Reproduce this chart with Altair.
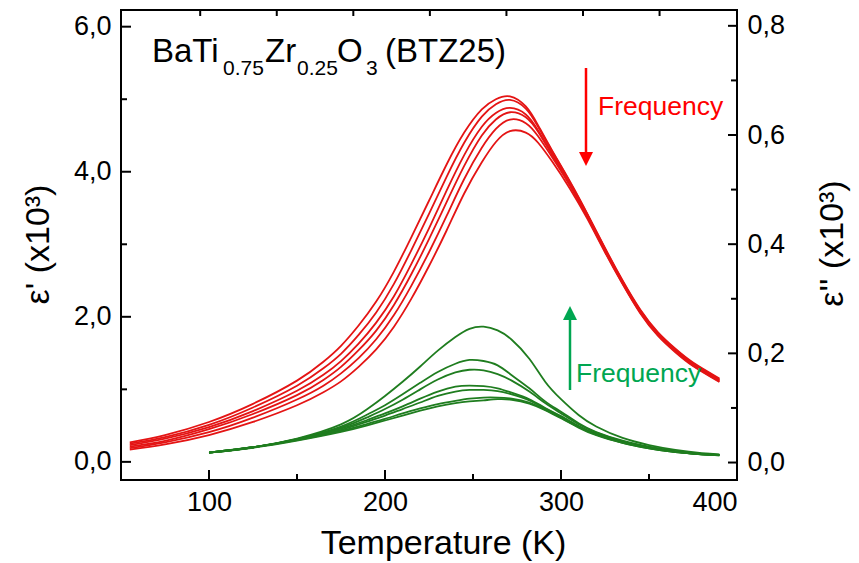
import altair as alt
import pandas as pd

# ---------------- data ----------------
T_RED = [55, 75, 100, 125, 150, 165, 175, 185, 195, 205, 215, 225, 235, 245, 255,
         263, 271, 280, 287, 295, 305, 315, 325, 335, 345, 355, 365, 375, 390]
EPS1_A = [0.27, 0.37, 0.55, 0.80, 1.12, 1.38, 1.60, 1.88, 2.21, 2.62, 3.10, 3.60, 4.10, 4.54, 4.86,
          5.00, 5.04, 4.90, 4.64, 4.29, 3.87, 3.42, 2.95, 2.50, 2.10, 1.79, 1.56, 1.37, 1.15]
EPS1_B = [0.25, 0.34, 0.51, 0.75, 1.05, 1.29, 1.49, 1.75, 2.06, 2.45, 2.92, 3.42, 3.93, 4.40, 4.76,
          4.93, 4.99, 4.87, 4.62, 4.28, 3.86, 3.41, 2.94, 2.49, 2.09, 1.78, 1.55, 1.36, 1.14]
EPS1_C = [0.23, 0.32, 0.48, 0.70, 0.98, 1.20, 1.39, 1.63, 1.92, 2.28, 2.73, 3.22, 3.74, 4.23, 4.62,
          4.81, 4.88, 4.79, 4.57, 4.25, 3.84, 3.40, 2.93, 2.48, 2.08, 1.77, 1.54, 1.35, 1.13]
EPS1_D = [0.21, 0.29, 0.45, 0.66, 0.92, 1.13, 1.31, 1.54, 1.81, 2.16, 2.59, 3.07, 3.58, 4.08, 4.50,
          4.72, 4.82, 4.75, 4.55, 4.23, 3.83, 3.39, 2.92, 2.47, 2.07, 1.76, 1.53, 1.34, 1.12]
EPS1_E = [0.19, 0.27, 0.41, 0.61, 0.86, 1.05, 1.22, 1.43, 1.69, 2.02, 2.43, 2.89, 3.39, 3.90, 4.33,
          4.59, 4.72, 4.67, 4.49, 4.20, 3.81, 3.37, 2.90, 2.46, 2.06, 1.75, 1.52, 1.33, 1.11]
EPS1_F = [0.17, 0.24, 0.37, 0.55, 0.78, 0.96, 1.11, 1.31, 1.55, 1.86, 2.25, 2.70, 3.19, 3.70, 4.13,
          4.41, 4.56, 4.54, 4.40, 4.14, 3.77, 3.35, 2.89, 2.45, 2.05, 1.74, 1.51, 1.32, 1.10]

T_GREEN = [100, 125, 150, 175, 190, 200, 210, 220, 230, 240, 248, 256, 264, 272,
           282, 291, 300, 310, 320, 335, 350, 365, 380, 390]
EPS2_A = [0.018, 0.028, 0.044, 0.070, 0.098, 0.122, 0.148, 0.176, 0.205, 0.230, 0.245, 0.249, 0.242, 0.225,
          0.190, 0.148, 0.116, 0.087, 0.066, 0.045, 0.032, 0.023, 0.017, 0.015]
EPS2_B = [0.018, 0.028, 0.043, 0.066, 0.088, 0.105, 0.125, 0.146, 0.166, 0.181, 0.188, 0.186, 0.178, 0.160,
          0.136, 0.112, 0.093, 0.072, 0.056, 0.040, 0.029, 0.021, 0.016, 0.014]
EPS2_C = [0.018, 0.028, 0.043, 0.064, 0.083, 0.098, 0.115, 0.134, 0.152, 0.165, 0.170, 0.169, 0.162, 0.150,
          0.130, 0.109, 0.090, 0.070, 0.055, 0.039, 0.028, 0.020, 0.016, 0.014]
EPS2_D = [0.018, 0.028, 0.042, 0.062, 0.078, 0.090, 0.103, 0.117, 0.130, 0.139, 0.141, 0.140, 0.136, 0.128,
          0.116, 0.100, 0.085, 0.067, 0.053, 0.038, 0.027, 0.020, 0.015, 0.014]
EPS2_E = [0.018, 0.028, 0.042, 0.060, 0.075, 0.086, 0.098, 0.110, 0.122, 0.130, 0.133, 0.133, 0.131, 0.125,
          0.114, 0.099, 0.084, 0.066, 0.052, 0.037, 0.027, 0.020, 0.015, 0.014]
EPS2_F = [0.018, 0.028, 0.041, 0.058, 0.071, 0.080, 0.090, 0.099, 0.107, 0.113, 0.117, 0.119, 0.119, 0.117,
          0.110, 0.097, 0.082, 0.065, 0.051, 0.036, 0.026, 0.019, 0.015, 0.013]
EPS2_G = [0.018, 0.027, 0.040, 0.056, 0.068, 0.077, 0.086, 0.095, 0.103, 0.109, 0.112, 0.114, 0.116, 0.115,
          0.108, 0.096, 0.081, 0.064, 0.050, 0.036, 0.026, 0.019, 0.015, 0.013]

X_MAJOR = [100, 200, 300, 400]
X_MINOR = [150, 250, 350]
X_TOP = [95, 138.5, 182, 225.5, 269, 312.5, 356]
Y1_MAJOR = [0, 2, 4, 6]
Y1_MINOR = [1, 3, 5]
Y2_MAJOR = [0, 0.2, 0.4, 0.6, 0.8]
Y2_MINOR = [0.1, 0.3, 0.5, 0.7]

# ---------------- tables ----------------
red_rows = []
for name, vals in zip("ABCDEF", [EPS1_A, EPS1_B, EPS1_C, EPS1_D, EPS1_E, EPS1_F]):
    for t, v in zip(T_RED, vals):
        red_rows.append({"T": t, "v": v, "s": name})
df_red = pd.DataFrame(red_rows)

green_rows = []
for name, vals in zip("ABCDEFG", [EPS2_A, EPS2_B, EPS2_C, EPS2_D, EPS2_E, EPS2_F, EPS2_G]):
    for t, v in zip(T_GREEN, vals):
        green_rows.append({"T": t, "v": v, "s": name})
df_green = pd.DataFrame(green_rows)

one = pd.DataFrame({"k": [0]})

# ---------------- styling ----------------
W, H = 616, 470
FONT = "Liberation Sans"
RED_LINE = "#e41414"
GREEN_LINE = "#1f7d1f"
RED_TXT = "#ff0000"
GREEN_TXT = "#00a651"

xs = alt.Scale(domain=[50, 400], nice=False, zero=False)
y1s = alt.Scale(domain=[-0.25, 6.23], nice=False, zero=False)
y2s = alt.Scale(domain=[-0.032, 0.829], nice=False, zero=False)
comma = "replace(format(datum.value, '.1f'), '.', ',')"

x_axis = alt.Axis(values=X_MAJOR, format="d", domain=False, ticks=False, grid=False,
                  labelFont=FONT, labelFontSize=27, labelColor="black", labelPadding=9,
                  title="Temperature (K)", titleFont=FONT, titleFontSize=34,
                  titleFontWeight="normal", titleColor="black",
                  titleX=322, titleY=73, titleBaseline="alphabetic", titleAlign="center")
y1_axis = alt.Axis(values=Y1_MAJOR, labelExpr=comma, domain=False, ticks=False, grid=False,
                   labelFont=FONT, labelFontSize=27, labelColor="black", labelPadding=10,
                   title="ε' (x10³)", titleFont=FONT, titleFontSize=34, titleFontWeight="normal",
                   titleColor="black", titleAngle=270, titleX=-73, titleY=234,
                   titleBaseline="alphabetic", titleAlign="center")
y2_axis = alt.Axis(values=Y2_MAJOR, labelExpr=comma, orient="right", domain=False, ticks=False,
                   grid=False, labelFont=FONT, labelFontSize=27, labelColor="black", labelPadding=10,
                   title="ε'' (x10³)", titleFont=FONT, titleFontSize=34, titleFontWeight="normal",
                   titleColor="black", titleAngle=270, titleX=105, titleY=233,
                   titleBaseline="alphabetic", titleAlign="center")

red = alt.Chart(df_red).mark_line(color=RED_LINE, strokeWidth=1.8, interpolate="natural").encode(
    x=alt.X("T:Q", scale=xs, axis=x_axis),
    y=alt.Y("v:Q", scale=y1s, axis=y1_axis),
    detail="s:N",
)
green = alt.Chart(df_green).mark_line(color=GREEN_LINE, strokeWidth=1.8, interpolate="natural").encode(
    x=alt.X("T:Q", scale=xs, axis=x_axis),
    y=alt.Y("v:Q", scale=y2s, axis=y2_axis),
    detail="s:N",
)


def yticks(vals, scale, x0, x1):
    return alt.Chart(pd.DataFrame({"v": vals})).mark_rule(color="black", strokeWidth=2).encode(
        y=alt.Y("v:Q", scale=scale, axis=None), x=alt.value(x0), x2=alt.value(x1))


def xticks(vals, y0, y1):
    return alt.Chart(pd.DataFrame({"T": vals})).mark_rule(color="black", strokeWidth=2).encode(
        x=alt.X("T:Q", scale=xs, axis=x_axis), y=alt.value(y0), y2=alt.value(y1))


tick_layers = [
    yticks(Y1_MAJOR, y1s, 0, 10),
    yticks(Y1_MINOR, y1s, 0, 6),
    yticks(Y2_MAJOR, y2s, W - 9, W),
    yticks(Y2_MINOR, y2s, W - 6, W),
    xticks(X_MAJOR, H - 10, H),
    xticks(X_MINOR, H - 6, H),
    xticks(X_TOP, 0, 6),
]


def label(text, x, y, size, color="black", font=FONT):
    return alt.Chart(one).mark_text(align="left", baseline="alphabetic", font=font,
                                    fontSize=size, color=color).encode(
        x=alt.value(x), y=alt.value(y), text=alt.value(text))


title_parts = [
    label("BaTi", 31, 52, 33),
    label("0.75", 102, 65, 21),
    label("Zr", 144, 52, 33),
    label("0.25", 176, 65, 21),
    label("O", 216, 52, 33),
    label("3", 245, 65, 21),
    label("(BTZ25)", 264, 52, 33),
]

red_arrow = alt.Chart(one).mark_rule(color=RED_TXT, strokeWidth=2.5).encode(
    x=alt.value(465), y=alt.value(58), y2=alt.value(143))
red_head = alt.Chart(one).mark_point(shape="M-1,-1L1,-1L0,1Z", filled=True, size=196,
                                     color=RED_TXT, opacity=1, strokeWidth=0).encode(
    x=alt.value(465), y=alt.value(149))
red_txt = label("Frequency", 477, 105, 26.5, RED_TXT)

green_arrow = alt.Chart(one).mark_rule(color=GREEN_TXT, strokeWidth=2.5).encode(
    x=alt.value(449), y=alt.value(310), y2=alt.value(380))
green_head = alt.Chart(one).mark_point(shape="M-1,1L1,1L0,-1Z", filled=True, size=196,
                                       color=GREEN_TXT, opacity=1, strokeWidth=0).encode(
    x=alt.value(449), y=alt.value(303))
green_txt = label("Frequency", 455, 372, 26.5, GREEN_TXT)

chart = alt.layer(
    red, green, *tick_layers, *title_parts,
    red_arrow, red_head, red_txt, green_arrow, green_head, green_txt,
).resolve_scale(y="independent").properties(
    width=W, height=H,
    autosize=alt.AutoSizeParams(type="none"),
    padding={"left": 121, "top": 10, "right": 122, "bottom": 83},
    background="white",
).configure_view(stroke="black", strokeWidth=2)

chart.save("out.html", embed_options={"renderer": "svg", "actions": False})
